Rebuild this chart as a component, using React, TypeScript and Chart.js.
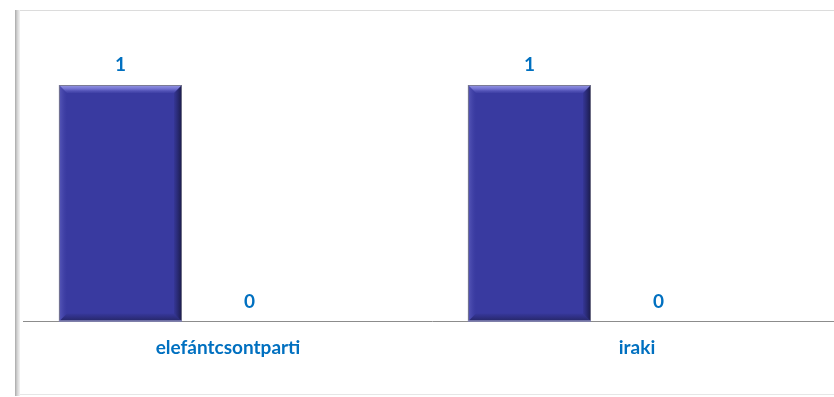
import React, { useEffect, useRef } from "react";
import { Chart, registerables } from "chart.js";

Chart.register(...registerables);

const categories = ["elefántcsontparti", "iraki"];
const seriesA = [1, 1];
const seriesB = [0, 0];
const emptySlot = [null, null];

const BAR_COLOR = "#393AA0";
const LABEL_COLOR = "#0070C0";
const FONT = "Lato, 'Open Sans', sans-serif";

const bevelPlugin = {
  id: "bevel",
  afterDatasetDraw(chart: any, args: any) {
    const ds = chart.data.datasets[args.index];
    if (!ds.bevel) return;
    const ctx = chart.ctx;
    const meta = args.meta;
    meta.data.forEach((el: any) => {
      const l = el.x - el.width / 2;
      const r = el.x + el.width / 2;
      const t = Math.min(el.y, el.base);
      const b = Math.max(el.y, el.base);
      const h = b - t;
      if (h < 2) return;
      const d = 8;
      ctx.save();
      // top highlight
      let g = ctx.createLinearGradient(0, t, 0, t + d);
      g.addColorStop(0, "rgba(170,170,240,0.85)");
      g.addColorStop(0.5, "rgba(125,125,220,0.8)");
      g.addColorStop(1, "rgba(80,80,180,0.3)");
      ctx.fillStyle = g;
      ctx.beginPath();
      ctx.moveTo(l, t);
      ctx.lineTo(r, t);
      ctx.lineTo(r - d, t + d);
      ctx.lineTo(l + d, t + d);
      ctx.closePath();
      ctx.fill();
      // right shadow
      g = ctx.createLinearGradient(r - d, 0, r, 0);
      g.addColorStop(0, "rgba(20,20,60,0.1)");
      g.addColorStop(1, "rgba(15,15,40,0.75)");
      ctx.fillStyle = g;
      ctx.beginPath();
      ctx.moveTo(r, t);
      ctx.lineTo(r, b);
      ctx.lineTo(r - d, b - d);
      ctx.lineTo(r - d, t + d);
      ctx.closePath();
      ctx.fill();
      // bottom shadow
      g = ctx.createLinearGradient(0, b - d, 0, b);
      g.addColorStop(0, "rgba(20,20,60,0.05)");
      g.addColorStop(1, "rgba(20,20,50,0.55)");
      ctx.fillStyle = g;
      ctx.beginPath();
      ctx.moveTo(l, b);
      ctx.lineTo(r, b);
      ctx.lineTo(r - d, b - d);
      ctx.lineTo(l + d, b - d);
      ctx.closePath();
      ctx.fill();
      // left slight highlight
      g = ctx.createLinearGradient(l, 0, l + d, 0);
      g.addColorStop(0, "rgba(120,120,210,0.5)");
      g.addColorStop(1, "rgba(80,80,180,0)");
      ctx.fillStyle = g;
      ctx.beginPath();
      ctx.moveTo(l, t);
      ctx.lineTo(l + d, t + d);
      ctx.lineTo(l + d, b - d);
      ctx.lineTo(l, b);
      ctx.closePath();
      ctx.fill();
      // outline
      ctx.strokeStyle = "rgba(120,120,140,0.9)";
      ctx.lineWidth = 1;
      ctx.strokeRect(l + 0.5, t + 0.5, r - l - 1, h - 1);
      // bottom light edge
      ctx.strokeStyle = "rgba(150,150,210,1)";
      ctx.beginPath();
      ctx.moveTo(l, b - 0.5);
      ctx.lineTo(r, b - 0.5);
      ctx.stroke();
      ctx.restore();
    });
  },
};

const valueLabelPlugin = {
  id: "valueLabels",
  afterDatasetsDraw(chart: any) {
    const ctx = chart.ctx;
    ctx.save();
    ctx.font = `bold 19px ${FONT}`;
    ctx.fillStyle = LABEL_COLOR;
    ctx.textAlign = "center";
    ctx.textBaseline = "middle";
    chart.data.datasets.forEach((ds: any, i: number) => {
      if (!ds.showValue) return;
      const meta = chart.getDatasetMeta(i);
      meta.data.forEach((el: any, j: number) => {
        const v = ds.data[j];
        if (v === null || v === undefined) return;
        ctx.fillText(String(v), el.x, el.y - 20);
      });
    });
    ctx.restore();
  },
};

export default function App() {
  const canvasRef = useRef<HTMLCanvasElement | null>(null);

  useEffect(() => {
    if (!canvasRef.current) return;
    const pad = (label: string) => ({
      label,
      data: emptySlot,
      backgroundColor: "rgba(0,0,0,0)",
      borderWidth: 0,
    });
    const chart = new Chart(canvasRef.current, {
      type: "bar",
      data: {
        labels: categories,
        datasets: [
          {
            label: "A",
            data: seriesA,
            backgroundColor: BAR_COLOR,
            borderWidth: 0,
            bevel: true,
            showValue: true,
          } as any,
          pad("p1"),
          pad("p2"),
          {
            label: "B",
            data: seriesB,
            backgroundColor: BAR_COLOR,
            borderWidth: 0,
            showValue: true,
          } as any,
          pad("p3"),
          pad("p4"),
        ],
      },
      options: {
        animation: false,
        responsive: true,
        maintainAspectRatio: false,
        layout: { padding: { left: 23.5, right: 8.5, top: 37.7, bottom: 0 } },
        datasets: {
          bar: { categoryPercentage: 0.631, barPercentage: 2.86 },
        },
        plugins: {
          legend: { display: false },
          tooltip: { enabled: false },
        },
        scales: {
          x: {
            grid: { display: false, drawTicks: false },
            border: { display: true, color: "#8c8c8c", width: 1 },
            ticks: {
              color: LABEL_COLOR,
              font: { family: FONT, size: 19, weight: "bold" },
              padding: 15,
            },
            afterFit: (scale: any) => {
              scale.height = 75.5;
            },
          },
          y: {
            display: false,
            min: 0,
            max: 1.2,
          },
        },
      },
      plugins: [bevelPlugin, valueLabelPlugin],
    });
    return () => chart.destroy();
  }, []);

  return (
    <div
      style={{
        position: "fixed",
        left: 0,
        top: 0,
        width: 834,
        height: 397,
        overflow: "hidden",
        background: "#fff",
      }}
    >
      <div
        style={{
          position: "absolute",
          left: 15,
          top: 10,
          width: 900,
          height: 385,
          borderTop: "1px solid #dcdcdc",
          borderBottom: "1px solid #e6e6e6",
          boxSizing: "border-box",
        }}
      />
      <div
        style={{
          position: "absolute",
          left: 15,
          top: 10,
          width: 5,
          height: 386,
          background: "linear-gradient(to right, #a8a8a8, #d0d0d0 40%, #f4f4f4)",
        }}
      />
      <div style={{ position: "absolute", left: 0, top: 0, width: 850, height: 397 }}>
        <canvas ref={canvasRef} />
      </div>
    </div>
  );
}
